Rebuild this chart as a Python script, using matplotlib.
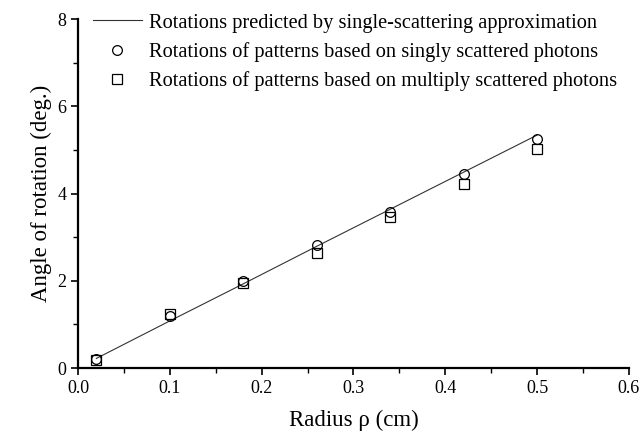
import matplotlib.pyplot as plt
from matplotlib.ticker import MultipleLocator

radius = [0.02, 0.10, 0.18, 0.26, 0.34, 0.42, 0.50]
predicted = [0.22, 1.08, 1.93, 2.79, 3.64, 4.49, 5.34]
singly = [0.20, 1.19, 1.99, 2.83, 3.58, 4.45, 5.24]
multiply = [0.18, 1.25, 1.95, 2.63, 3.47, 4.23, 5.02]

plt.rcParams['font.family'] = ['Liberation Serif', 'DejaVu Serif']

fig = plt.figure(figsize=(6.42, 4.34), dpi=100)
ax = fig.add_axes([0.1215, 0.152, 0.858, 0.804])

ax.plot(radius, predicted, color='#333333', lw=0.8,
        label='Rotations predicted by single-scattering approximation')
ax.plot(radius, singly, 'o', mfc='none', mec='black', ms=7, mew=0.9,
        label='Rotations of patterns based on singly scattered photons')
ax.plot(radius, multiply, 's', mfc='none', mec='black', ms=6.5, mew=0.9,
        label='Rotations of patterns based on multiply scattered photons')

ax.set_xlim(0, 0.6)
ax.set_ylim(0, 8)
ax.xaxis.set_major_locator(MultipleLocator(0.1))
ax.xaxis.set_minor_locator(MultipleLocator(0.05))
ax.yaxis.set_major_locator(MultipleLocator(2))
ax.yaxis.set_minor_locator(MultipleLocator(1))
ax.xaxis.set_major_formatter(plt.FuncFormatter(lambda v, _: f'{v:.1f}'))

for s in ['top', 'right']:
    ax.spines[s].set_visible(False)
for s in ['left', 'bottom']:
    ax.spines[s].set_linewidth(1.6)
ax.tick_params(which='major', direction='out', length=5, width=1.2,
               labelsize=13, pad=3.5)
ax.tick_params(which='minor', direction='out', length=3.5, width=1.0)

ax.set_xlabel('Radius ρ (cm)', fontsize=16.5, labelpad=9)
ax.set_ylabel('Angle of rotation (deg.)', fontsize=16.5, labelpad=4)

ax.legend(loc='upper left', bbox_to_anchor=(0.012, 1.04), frameon=False,
          fontsize=14.7, handlelength=2.4, handletextpad=0.35,
          labelspacing=0.45, borderaxespad=0)

fig.savefig('out.png', dpi=100)
